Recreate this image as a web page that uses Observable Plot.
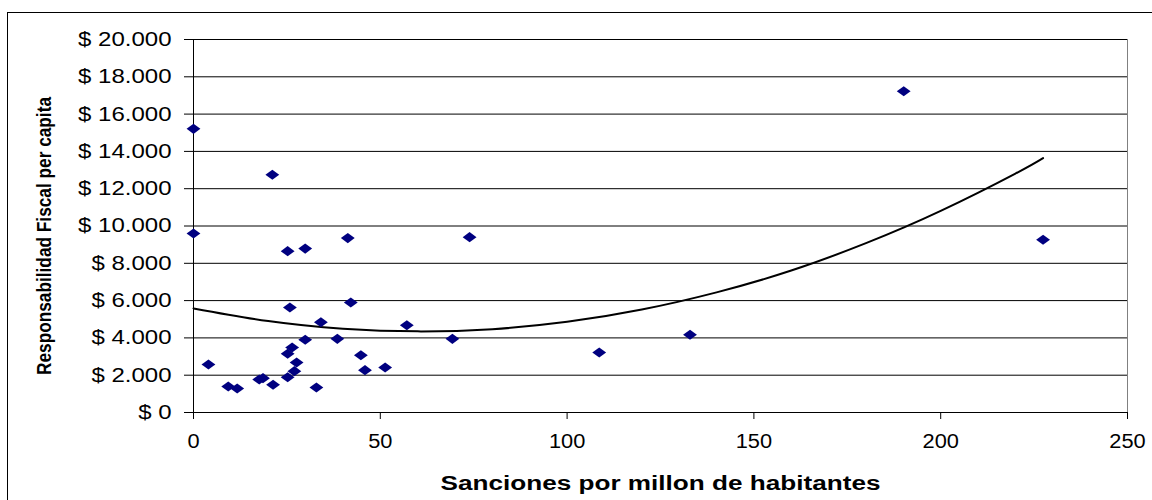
<!DOCTYPE html>
<html>
<head>
<meta charset="utf-8">
<script src="https://cdn.jsdelivr.net/npm/d3@7"></script>
<script src="https://cdn.jsdelivr.net/npm/@observablehq/plot@0.6"></script>
<style>
  html, body { margin: 0; padding: 0; background: #fff; }
  #wrap { position: relative; width: 1152px; height: 500px; overflow: hidden; }
  #frame { position: absolute; left: 7px; top: 12px; width: 1200px; height: 600px;
           border-top: 1px solid #000; border-left: 1px solid #000; pointer-events: none; }
  #chart { position: absolute; left: 0; top: 0; }
</style>
</head>
<body>
<div id="wrap"><div id="chart"></div><div id="frame"></div></div>
<script>
// Data
const sanciones = [0, 0, 4.0, 9.3, 11.7, 17.6, 18.6, 21.3, 21.1, 25.2,
  29.9, 25.8, 25.2, 27.0, 27.6, 25.2, 26.4, 29.9, 34.1, 32.9,
  38.5, 41.3, 42.1, 44.8, 45.9, 51.3, 57.1, 69.3, 73.9, 108.6,
  132.9, 190.1, 227.4];
const responsabilidad = [15210, 9598, 2574, 1394, 1287, 1770, 1840, 1485, 12750, 8650,
  8790, 5630, 1890, 2215, 2680, 3150, 3485, 3900, 4840, 1340,
  3950, 9350, 5900, 3070, 2270, 2410, 4680, 3950, 9400, 3217,
  4166, 17228, 9260];
// Polynomial trendline
const trendX = [0, 20, 40, 60, 80, 100, 120, 140, 160, 180, 200, 220, 227.4];
const trendY = [5580, 4900, 4490, 4350, 4470, 4860, 5520, 6440, 7610, 9080, 10810, 12810, 13640];
const xTicks = [0, 50, 100, 150, 200, 250];
const yTicks = [0, 2000, 4000, 6000, 8000, 10000, 12000, 14000, 16000, 18000, 20000];
const xLabel = "Sanciones por millon de habitantes";
const yLabel = "Responsabilidad Fiscal per capita";

const points = sanciones.map((s, i) => ({x: s, y: responsabilidad[i]}));
const trend = trendX.map((t, i) => ({x: t, y: trendY[i]}));

const wideDiamond = {
  draw(context, size) {
    const s = Math.sqrt(size);
    const rx = s * 0.6, ry = s * 0.44;
    context.moveTo(0, -ry);
    context.lineTo(rx, 0);
    context.lineTo(0, ry);
    context.lineTo(-rx, 0);
    context.closePath();
  }
};

const fmtY = d => "$ " + d3.format(",")(d).replace(/,/g, ".");
const font = "'Liberation Sans', Arial, Helvetica, sans-serif";

const svg = Plot.plot({
  width: 1152,
  height: 500,
  marginLeft: 193,
  marginRight: 25,
  marginTop: 39,
  marginBottom: 88,
  style: {fontFamily: font, background: "transparent", color: "#000"},
  x: {domain: [0, 250], ticks: xTicks},
  y: {domain: [0, 20000], ticks: yTicks},
  marks: [
    Plot.ruleY(yTicks, {stroke: "#000", strokeWidth: 1}),
    Plot.ruleX([250], {stroke: "#808080", strokeWidth: 1}),
    Plot.ruleX([0], {stroke: "#000", strokeWidth: 1}),
    Plot.ruleY([0], {stroke: "#000", strokeWidth: 1}),
    Plot.axisX({ticks: xTicks, tickSize: 7, tickPadding: 14, fontSize: 20, label: null, tickFormat: d3.format("d")}),
    Plot.axisY({ticks: yTicks, tickSize: 9, tickPadding: 13, fontSize: 20, label: null, tickFormat: fmtY}),
    Plot.line(trend, {x: "x", y: "y", stroke: "#000", strokeWidth: 2, curve: "natural"}),
    Plot.dot(points, {x: "x", y: "y", r: 6.5, symbol: wideDiamond, fill: "#000080", stroke: "none"}),
    Plot.text([xLabel], {frameAnchor: "bottom", dy: 77, lineAnchor: "bottom", fontSize: 19.5, fontWeight: "bold", fill: "#000", className: "xlab"})
  ]
});

document.getElementById("chart").append(svg);

// Y-axis title (rotated), condensed as in the reference
d3.select(svg).append("text")
  .attr("transform", "translate(51,236) rotate(-90)")
  .attr("text-anchor", "middle")
  .attr("font-family", font)
  .attr("font-weight", "bold")
  .attr("font-size", 20)
  .attr("fill", "#000")
  .attr("class", "ylab")
  .text(yLabel);

function stretch(selector, k) {
  svg.querySelectorAll(selector).forEach(t => {
    const w = t.getComputedTextLength();
    t.setAttribute("textLength", w * k);
    t.setAttribute("lengthAdjust", "spacingAndGlyphs");
  });
}
stretch('g[aria-label="y-axis tick label"] text', 1.2);
stretch('g[aria-label="x-axis tick label"] text', 1.09);
stretch('.xlab text', 1.34);
svg.querySelectorAll('text.ylab').forEach(t => {
  t.setAttribute("textLength", 278);
  t.setAttribute("lengthAdjust", "spacingAndGlyphs");
});
</script>
</body>
</html>
